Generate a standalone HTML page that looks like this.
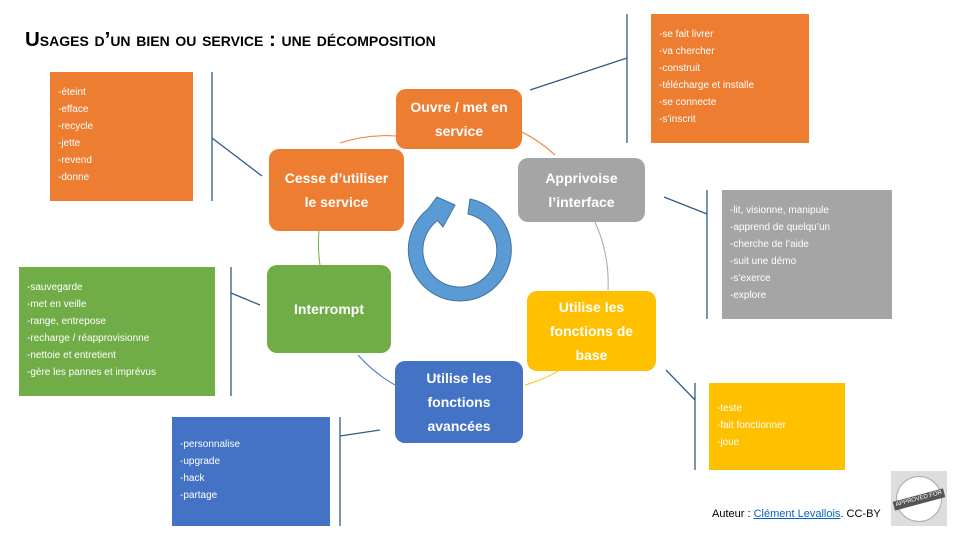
<!DOCTYPE html>
<html><head><meta charset="utf-8"><style>
body{margin:0;width:960px;height:540px;background:#fff;position:relative;overflow:hidden;font-family:"Liberation Sans",sans-serif}
.b{position:absolute;border-radius:10px;color:#fff;font-weight:bold;font-size:14px;line-height:24px;display:flex;align-items:center;justify-content:center;text-align:center}
.l{position:absolute;color:#fff;font-size:10px;line-height:17px;padding:13px 0 0 8px;box-sizing:border-box}
.t{position:absolute;left:25px;top:28px;font-weight:bold;font-size:20.5px;font-variant:small-caps;color:#000}
</style></head><body>
<div class="t">Usages d’un bien ou service : une décomposition</div>
<svg width="960" height="540" style="position:absolute;left:0;top:0">
<g fill="none" stroke-width="1">
<path d="M340 143 A147 147 0 0 1 396 136" stroke="#ED7D31"/>
<path d="M522 132 A147 147 0 0 1 555 155" stroke="#ED7D31"/>
<path d="M595 222 A147 147 0 0 1 608 290" stroke="#A5A5A5"/>
<path d="M560 370 A147 147 0 0 1 525 385" stroke="#FFC000"/>
<path d="M395 385 A147 147 0 0 1 358 355" stroke="#4472C4"/>
<path d="M320 265 A147 147 0 0 1 319 231" stroke="#70AD47"/>
</g>
<g stroke="#2E5C8A" stroke-width="1.3" fill="none">
<path d="M627 14 V143 M530 90 L627 58"/>
<path d="M212 72 V201 M212 138 L262 176"/>
<path d="M707 190 V319 M664 197 L707 214"/>
<path d="M231 267 V396 M231 293 L260 305"/>
<path d="M695 383 V470 M666 370 L695 400"/>
<path d="M340 417 V526 M340 436 L380 430"/>
</g>
<path d="M470 199 A51.5 51.5 0 1 1 428 209 L437 197 L455 205 L443 227 L437.6 220.5 A37 37 0 1 0 468 214 Z" fill="#5B9BD5" stroke="#41719C" stroke-width="1"/>
</svg>
<div class="b" style="left:396px;top:89px;width:126px;height:60px;background:#ED7D31">Ouvre / met en<br>service</div>
<div class="b" style="left:269px;top:149px;width:135px;height:82px;background:#ED7D31">Cesse d’utiliser<br>le service</div>
<div class="b" style="left:518px;top:158px;width:127px;height:64px;background:#A5A5A5">Apprivoise<br>l’interface</div>
<div class="b" style="left:267px;top:265px;width:124px;height:88px;background:#70AD47">Interrompt</div>
<div class="b" style="left:527px;top:291px;width:129px;height:80px;background:#FFC000">Utilise les<br>fonctions de<br>base</div>
<div class="b" style="left:395px;top:361px;width:128px;height:82px;background:#4472C4">Utilise les<br>fonctions<br>avancées</div>
<div class="l" style="left:651px;top:14px;width:158px;height:129px;background:#ED7D31;padding-top:12px">-se fait livrer<br>-va chercher<br>-construit<br>-télécharge et installe<br>-se connecte<br>-s’inscrit</div>
<div class="l" style="left:50px;top:72px;width:143px;height:129px;background:#ED7D31;padding-top:12px">-éteint<br>-efface<br>-recycle<br>-jette<br>-revend<br>-donne</div>
<div class="l" style="left:722px;top:190px;width:170px;height:129px;background:#A5A5A5;padding-top:12px">-lit, visionne, manipule<br>-apprend de quelqu’un<br>-cherche de l’aide<br>-suit une démo<br>-s’exerce<br>-explore</div>
<div class="l" style="left:19px;top:267px;width:196px;height:129px;background:#70AD47;padding-top:12px">-sauvegarde<br>-met en veille<br>-range, entrepose<br>-recharge / réapprovisionne<br>-nettoie et entretient<br>-gère les pannes et imprévus</div>
<div class="l" style="left:709px;top:383px;width:136px;height:87px;background:#FFC000;padding-top:17px">-teste<br>-fait fonctionner<br>-joue</div>
<div class="l" style="left:172px;top:417px;width:158px;height:109px;background:#4472C4;padding-top:19px">-personnalise<br>-upgrade<br>-hack<br>-partage</div>
<div style="position:absolute;left:712px;top:508px;font-size:11px;color:#000">Auteur : <span style="color:#0563C1;text-decoration:underline">Clément Levallois</span>. CC-BY</div>
<div style="position:absolute;left:891px;top:471px;width:56px;height:55px;background:#ddd">
<div style="position:absolute;left:5px;top:5px;width:44px;height:44px;border-radius:50%;background:#fff;border:1px solid #aaa"></div>
<div style="position:absolute;left:2px;top:24px;width:52px;height:9px;background:#555;color:#fff;font-size:6px;line-height:9px;text-align:center;transform:rotate(-15deg)">APPROVED FOR</div>
</div>
</body></html>
